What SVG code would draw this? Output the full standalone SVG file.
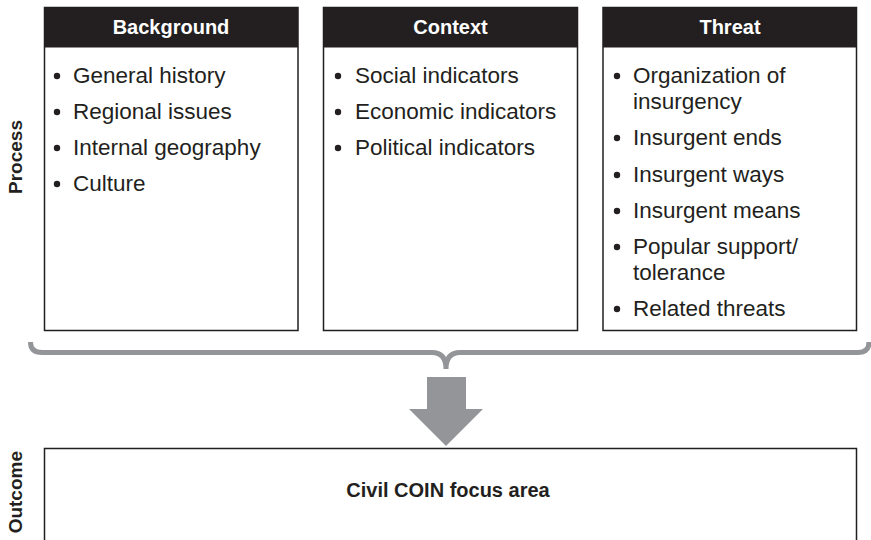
<svg xmlns="http://www.w3.org/2000/svg" width="871" height="540" viewBox="0 0 871 540">
<style>
.box{fill:#fff;stroke:#231f20;stroke-width:1.5}
.hdr{fill:#231f20}
.ht{font-family:"Liberation Sans",Arial,sans-serif;font-weight:bold;font-size:20px;fill:#fff;text-anchor:middle}
.it{font-family:"Liberation Sans",Arial,sans-serif;font-size:22.5px;fill:#231f20}
.lbl{font-family:"Liberation Sans",Arial,sans-serif;font-weight:bold;font-size:19px;fill:#231f20}
.ot{font-family:"Liberation Sans",Arial,sans-serif;font-weight:bold;font-size:20px;fill:#231f20;text-anchor:middle}
.bul{fill:#231f20}
</style>
<rect width="871" height="540" fill="#fff"/>
<text class="lbl" transform="translate(22,157) rotate(-90)" text-anchor="middle">Process</text>
<text class="lbl" transform="translate(22,451) rotate(-90)" text-anchor="end">Outcome</text>
<g id="background">
<rect class="box" x="44.5" y="7.5" width="253.5" height="323"/>
<rect class="hdr" x="44.5" y="7.5" width="253.5" height="40"/>
<text class="ht" x="171" y="34">Background</text>
<circle class="bul" cx="57" cy="76" r="3.2"/><text class="it" x="73" y="83">General history</text>
<circle class="bul" cx="57" cy="112" r="3.2"/><text class="it" x="73" y="119">Regional issues</text>
<circle class="bul" cx="57" cy="148" r="3.2"/><text class="it" x="73" y="155">Internal geography</text>
<circle class="bul" cx="57" cy="184" r="3.2"/><text class="it" x="73" y="191">Culture</text>
</g>
<g id="context">
<rect class="box" x="323.5" y="7.5" width="254" height="323"/>
<rect class="hdr" x="323.5" y="7.5" width="254" height="40"/>
<text class="ht" x="450.5" y="34">Context</text>
<circle class="bul" cx="338" cy="76" r="3.2"/><text class="it" x="355" y="83">Social indicators</text>
<circle class="bul" cx="338" cy="112" r="3.2"/><text class="it" x="355" y="119">Economic indicators</text>
<circle class="bul" cx="338" cy="148" r="3.2"/><text class="it" x="355" y="155">Political indicators</text>
</g>
<g id="threat">
<rect class="box" x="603" y="7.5" width="253.5" height="323"/>
<rect class="hdr" x="603" y="7.5" width="253.5" height="40"/>
<text class="ht" x="730" y="34">Threat</text>
<circle class="bul" cx="617" cy="76" r="3.2"/><text class="it" x="633" y="83">Organization of</text>
<text class="it" x="633" y="109">insurgency</text>
<circle class="bul" cx="617" cy="138" r="3.2"/><text class="it" x="633" y="145">Insurgent ends</text>
<circle class="bul" cx="617" cy="175" r="3.2"/><text class="it" x="633" y="182">Insurgent ways</text>
<circle class="bul" cx="617" cy="211" r="3.2"/><text class="it" x="633" y="218">Insurgent means</text>
<circle class="bul" cx="617" cy="247" r="3.2"/><text class="it" x="633" y="254">Popular support/</text>
<text class="it" x="633" y="280">tolerance</text>
<circle class="bul" cx="617" cy="309" r="3.2"/><text class="it" x="633" y="316">Related threats</text>
</g>
<g id="connectors">
<path d="M30.5,342 Q30.5,352.5 42,352.5 L432,352.5 C441,352.5 446,358 446,369 C446,358 451,352.5 460,352.5 L858,352.5 Q869,352.5 869,342" fill="none" stroke="#939598" stroke-width="5"/>
<polygon points="427,377 466,377 466,409 483,409 446,446 409,409 427,409" fill="#939598"/>
</g>
<g id="outcome">
<rect class="box" x="44.5" y="448.5" width="812" height="110"/>
<text class="ot" x="448" y="497">Civil COIN focus area</text>
</g>
</svg>
